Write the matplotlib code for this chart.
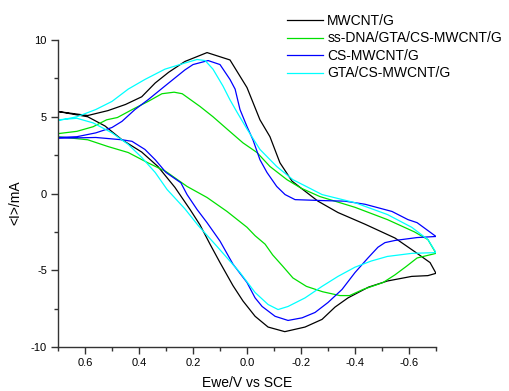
import matplotlib
matplotlib.use("Agg")
import matplotlib.pyplot as plt
from matplotlib.ticker import MultipleLocator

plt.rcParams['font.family'] = ['Liberation Sans', 'DejaVu Sans']
plt.rcParams['axes.unicode_minus'] = False

labels = ["MWCNT/G", "ss-DNA/GTA/CS-MWCNT/G", "CS-MWCNT/G", "GTA/CS-MWCNT/G"]
colors = ["#000000", "#00e000", "#0000ff", "#00ffff"]

# MWCNT/G: forward scan 0.7 -> -0.7, then back
mw_e = [0.70, 0.59, 0.515, 0.45, 0.39, 0.34, 0.29, 0.23, 0.148, 0.063, 0.0, -0.048,
        -0.085, -0.122, -0.167, -0.263, -0.337, -0.437, -0.548, -0.622, -0.678, -0.70,
        -0.67, -0.61, -0.52, -0.45, -0.374, -0.326, -0.278, -0.215, -0.14, -0.078,
        -0.03, 0.015, 0.052, 0.10, 0.137, 0.174, 0.211, 0.267, 0.33, 0.39, 0.463,
        0.526, 0.59, 0.70]
mw_i = [5.34, 5.08, 5.4, 5.8, 6.3, 7.2, 7.9, 8.6, 9.18, 8.7, 6.9, 4.8,
        3.7, 2.0, 0.8, -0.5, -1.24, -2.0, -2.9, -3.8, -4.5, -5.2,
        -5.35, -5.4, -5.7, -6.1, -6.8, -7.4, -8.2, -8.7, -9.0, -8.7,
        -8.0, -7.0, -6.0, -4.5, -3.3, -2.05, -1.04, 0.4, 1.76, 2.7, 3.5,
        4.4, 5.0, 5.34]

# ss-DNA/GTA/CS-MWCNT/G
ss_e = [0.70, 0.63, 0.57, 0.52, 0.48, 0.425, 0.366, 0.315, 0.27, 0.24, 0.174, 0.126,
        0.074, 0.015, -0.037, -0.085, -0.148, -0.2, -0.27, -0.4, -0.52, -0.62, -0.67,
        -0.70, -0.63, -0.59, -0.548, -0.504, -0.43, -0.38, -0.344, -0.28, -0.22,
        -0.17, -0.133, -0.095, -0.067, -0.03, 0.0, 0.074, 0.148, 0.222, 0.3, 0.367,
        0.44, 0.515, 0.59, 0.70]
ss_i = [3.9, 4.05, 4.35, 4.8, 4.95, 5.47, 6.0, 6.5, 6.6, 6.5, 5.67, 5.0,
        4.2, 3.3, 2.67, 1.76, 0.9, 0.35, -0.2, -0.9, -1.7, -2.5, -3.0,
        -3.9, -4.2, -4.75, -5.3, -5.8, -6.25, -6.65, -6.65, -6.4, -6.05,
        -5.5, -4.75, -4.0, -3.3, -2.75, -2.2, -1.17, -0.26, 0.46, 1.43, 2.0,
        2.67, 3.06, 3.5, 3.7]

# CS-MWCNT/G
cs_e = [0.70, 0.63, 0.56, 0.50, 0.463, 0.415, 0.367, 0.304, 0.23, 0.20, 0.144, 0.10,
        0.063, 0.044, 0.026, 0.0, -0.022, -0.048, -0.074, -0.11, -0.141, -0.178,
        -0.278, -0.363, -0.437, -0.537, -0.596, -0.63, -0.70,
        -0.63, -0.548, -0.511, -0.485, -0.448, -0.40, -0.352, -0.30, -0.252, -0.204,
        -0.152, -0.104, -0.056, -0.03, 0.0, 0.052, 0.10, 0.148, 0.185, 0.222, 0.245,
        0.30, 0.34, 0.378, 0.426, 0.463, 0.56, 0.70]
cs_i = [3.65, 3.7, 3.95, 4.3, 4.7, 5.47, 6.1, 7.0, 8.05, 8.4, 8.66, 8.4,
        7.43, 6.8, 5.47, 4.36, 3.5, 2.2, 1.37, 0.46, -0.07, -0.4,
        -0.46, -0.5, -0.7, -1.17, -1.7, -1.9, -2.8,
        -2.87, -3.06, -3.2, -3.5, -4.2, -5.15, -6.25, -7.1, -7.75, -8.1,
        -8.27, -8.0, -7.36, -6.8, -5.8, -4.6, -3.1, -1.9, -1.04, -0.07, 0.7,
        1.37, 2.2, 2.87, 3.4, 3.5, 3.65, 3.6]

# GTA/CS-MWCNT/G
gta_e = [0.70, 0.63, 0.56, 0.50, 0.44, 0.378, 0.304, 0.23, 0.185, 0.155, 0.126, 0.089,
         0.063, 0.037, 0.0, -0.048, -0.11, -0.17, -0.226, -0.278, -0.40, -0.52, -0.61,
         -0.67, -0.70, -0.61, -0.52, -0.46, -0.40, -0.337, -0.278, -0.215, -0.152,
         -0.115, -0.078, -0.03, 0.026, 0.111, 0.18, 0.23, 0.296, 0.34, 0.39, 0.44,
         0.50, 0.57, 0.63, 0.70]
gta_i = [4.75, 5.0, 5.47, 6.0, 6.8, 7.43, 8.1, 8.5, 8.73, 8.66, 8.1, 7.0,
         6.1, 5.3, 4.2, 2.87, 1.76, 0.9, 0.4, -0.07, -0.6, -1.37, -2.2,
         -3.0, -3.85, -3.9, -4.1, -4.4, -4.8, -5.4, -6.05, -6.8, -7.36,
         -7.56, -7.23, -6.45, -5.15, -3.45, -2.1, -1.0, 0.26, 1.37, 2.35, 3.2,
         3.95, 4.6, 4.9, 4.8]

fig = plt.figure(figsize=(5.09, 3.91), dpi=100)
ax = fig.add_axes([58 / 509, 44 / 391, 378 / 509, 307 / 391])

series = [(mw_e, mw_i), (ss_e, ss_i), (cs_e, cs_i), (gta_e, gta_i)]
for (e, i), lab, c in zip(series, labels, colors):
    ax.plot(e, i, color=c, lw=0.9, label=lab)

ax.set_xlim(0.7, -0.7)
ax.set_ylim(-10, 10)
ax.xaxis.set_minor_locator(MultipleLocator(0.1))
ax.yaxis.set_major_locator(MultipleLocator(5))
ax.yaxis.set_minor_locator(MultipleLocator(2.5))
ax.set_xticks([0.6, 0.4, 0.2, 0.0, -0.2, -0.4, -0.6])
ax.set_xticklabels(["0.6", "0.4", "0.2", "0.0", "-0.2", "-0.4", "-0.6"])

for s in ["top", "right"]:
    ax.spines[s].set_visible(False)
for s in ["left", "bottom"]:
    ax.spines[s].set_color("#333333")
    ax.spines[s].set_linewidth(1.0)
ax.tick_params(which="major", direction="out", length=5, width=1, color="#333333",
               labelsize=8, pad=3)
ax.tick_params(which="minor", direction="out", length=3, width=1, color="#333333")

ax.set_xlabel("Ewe/V vs SCE", fontsize=10, labelpad=6)
ax.set_ylabel("<I>/mA", fontsize=10)
ax.yaxis.set_label_coords(-0.093, 0.47)

fig.legend(loc="upper left", bbox_to_anchor=(287 / 509, 1 - 14 / 391), frameon=False,
           fontsize=10, handlelength=2.6, handletextpad=0.3, labelspacing=0.25,
           borderpad=0, borderaxespad=0)

fig.savefig("out.png", dpi=100)
